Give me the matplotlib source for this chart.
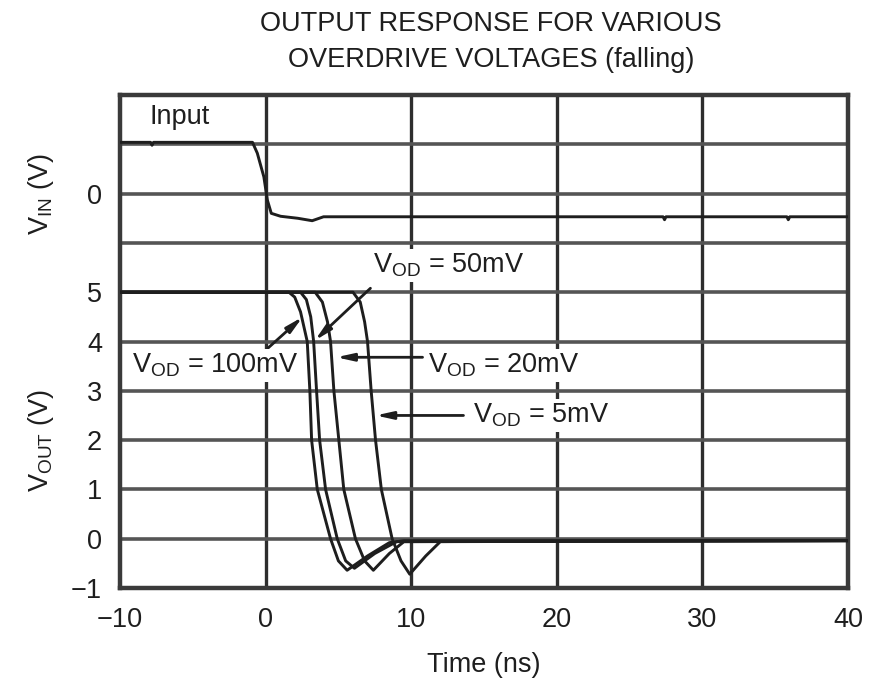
import matplotlib
matplotlib.use("Agg")
import matplotlib.pyplot as plt
import matplotlib.transforms as mtransforms

plt.rcParams["font.family"] = ["Liberation Sans", "DejaVu Sans"]
plt.rcParams["mathtext.default"] = "regular"

INK = "#1e1e1e"
GRID_H = "#555555"
GRID_V = "#2e2e2e"

# ---- data (ns, V on the output scale) ----
# input trace sits on the upper part of the shared axis: 7 on the scale = "0 V" input
t_in = [-10, -7.9, -7.8, -7.7, -0.9, -0.57, -0.12, 0.12, 0.39, 1.03, 2.2, 3.2, 3.98,
        27.3, 27.4, 27.5, 35.8, 35.9, 36.0, 40]
v_in = [8.04, 8.04, 7.98, 8.04, 8.04, 7.82, 7.34, 6.87, 6.60, 6.54, 6.50, 6.45, 6.53,
        6.53, 6.47, 6.53, 6.53, 6.47, 6.53, 6.53]

t_100 = [-10, 1.6, 2.0, 2.4, 2.86, 3.04, 3.16, 3.55, 4.46, 5.0, 5.6, 7.0, 8.5, 9.5, 40]
v_100 = [5.0, 5.0, 4.9, 4.6, 4.0, 3.0, 2.0, 1.0, 0.0, -0.45, -0.64, -0.35, -0.08, -0.04, -0.04]

t_50 = [-10, 2.4, 2.8, 3.1, 3.3, 3.5, 3.71, 4.12, 4.92, 5.5, 6.1, 7.5, 9.0, 40]
v_50 = [5.0, 5.0, 4.85, 4.5, 4.0, 3.0, 2.0, 1.0, 0.0, -0.45, -0.6, -0.3, -0.06, -0.04]

t_20 = [-10, 3.4, 3.9, 4.25, 4.46, 4.69, 5.03, 5.37, 6.17, 6.8, 7.4, 8.5, 9.5, 40]
v_20 = [5.0, 5.0, 4.8, 4.4, 4.0, 3.0, 2.0, 1.0, 0.0, -0.45, -0.64, -0.3, -0.06, -0.04]

t_5 = [-10, 6.0, 6.5, 6.8, 7.0, 7.25, 7.55, 7.95, 8.69, 9.3, 9.9, 11.0, 12.0, 40]
v_5 = [5.0, 5.0, 4.8, 4.4, 4.0, 3.0, 2.0, 1.0, 0.0, -0.45, -0.72, -0.35, -0.06, -0.04]

x_ticks = [-10, 0, 10, 20, 30, 40]
x_labels = ["\u221210", "0", "10", "20", "30", "40"]
y_ticks = [-1, 0, 1, 2, 3, 4, 5, 6, 7, 8, 9]
y_labels = ["\u22121", "0", "1", "2", "3", "4", "5", "", "0", "", ""]

fig = plt.figure(figsize=(8.71, 6.8), dpi=100)
ax = fig.add_axes([120 / 871, 1 - 588 / 680, 728 / 871, 493 / 680])

ax.set_xlim(-10, 40)
ax.set_ylim(-1, 9)

# grid
for xv in x_ticks[1:-1]:
    ax.axvline(xv, color=GRID_V, lw=2.4, zorder=1)
for yv in y_ticks[1:-1]:
    ax.axhline(yv, color=GRID_H, lw=2.6, zorder=1)
for sp in ax.spines.values():
    sp.set_linewidth(3.2)
    sp.set_color("#3a3a3a")

# traces
for t, v in [(t_in, v_in), (t_100, v_100), (t_50, v_50), (t_20, v_20), (t_5, v_5)]:
    ax.plot(t, v, color=INK, lw=2.1, zorder=3, solid_joinstyle="round")

ax.set_xticks(x_ticks)
ax.set_xticklabels(x_labels)
ax.set_yticks(y_ticks)
ax.set_yticklabels(y_labels)
ax.tick_params(length=0, labelsize=19.5, labelcolor=INK)
ax.tick_params(axis="y", pad=13)
ax.tick_params(axis="x", pad=14)

ax.set_xlabel("Time (ns)", fontsize=19.5, color=INK, labelpad=13)

tr = mtransforms.blended_transform_factory(ax.transAxes, ax.transData)
ax.text(-0.108, 7.0, "V$_{IN}$ (V)", transform=tr, rotation=90, ha="center",
        va="center", fontsize=19.5, color=INK)
ax.text(-0.108, 2.0, "V$_{OUT}$ (V)", transform=tr, rotation=90, ha="center",
        va="center", fontsize=19.5, color=INK)

ax.text(-5.9, 8.55, "Input", ha="center", va="center", fontsize=19.5, color=INK)

# callouts: label text, its centre, arrow tail, arrow tip
box = dict(facecolor="white", edgecolor="none", pad=2)
arrow = dict(arrowstyle="-|>,head_length=1.0,head_width=0.22", color=INK, lw=2.0,
             shrinkA=0, shrinkB=0)
callouts = [
    ("V$_{OD}$ = 100mV", (-3.43, 3.52), (0.14, 3.86), (2.55, 4.5)),
    ("V$_{OD}$ = 50mV", (12.56, 5.55), (7.2, 5.08), (3.38, 4.02)),
    ("V$_{OD}$ = 20mV", (16.33, 3.52), (10.78, 3.68), (4.85, 3.68)),
    ("V$_{OD}$ = 5mV", (18.94, 2.5), (13.59, 2.5), (7.55, 2.5)),
]
for label, pos, tail, tip in callouts:
    ax.annotate("", xy=tip, xytext=tail, arrowprops=arrow, zorder=4)
    ax.text(pos[0], pos[1], label, ha="center", va="center", fontsize=19.5,
            color=INK, bbox=box, zorder=5)

fig.text(491 / 871, 1 - 42 / 680,
         "OUTPUT RESPONSE FOR VARIOUS\nOVERDRIVE VOLTAGES (falling)",
         ha="center", va="center", fontsize=19.5, color=INK, linespacing=1.5)

fig.savefig("out.png", dpi=100, facecolor="white")
